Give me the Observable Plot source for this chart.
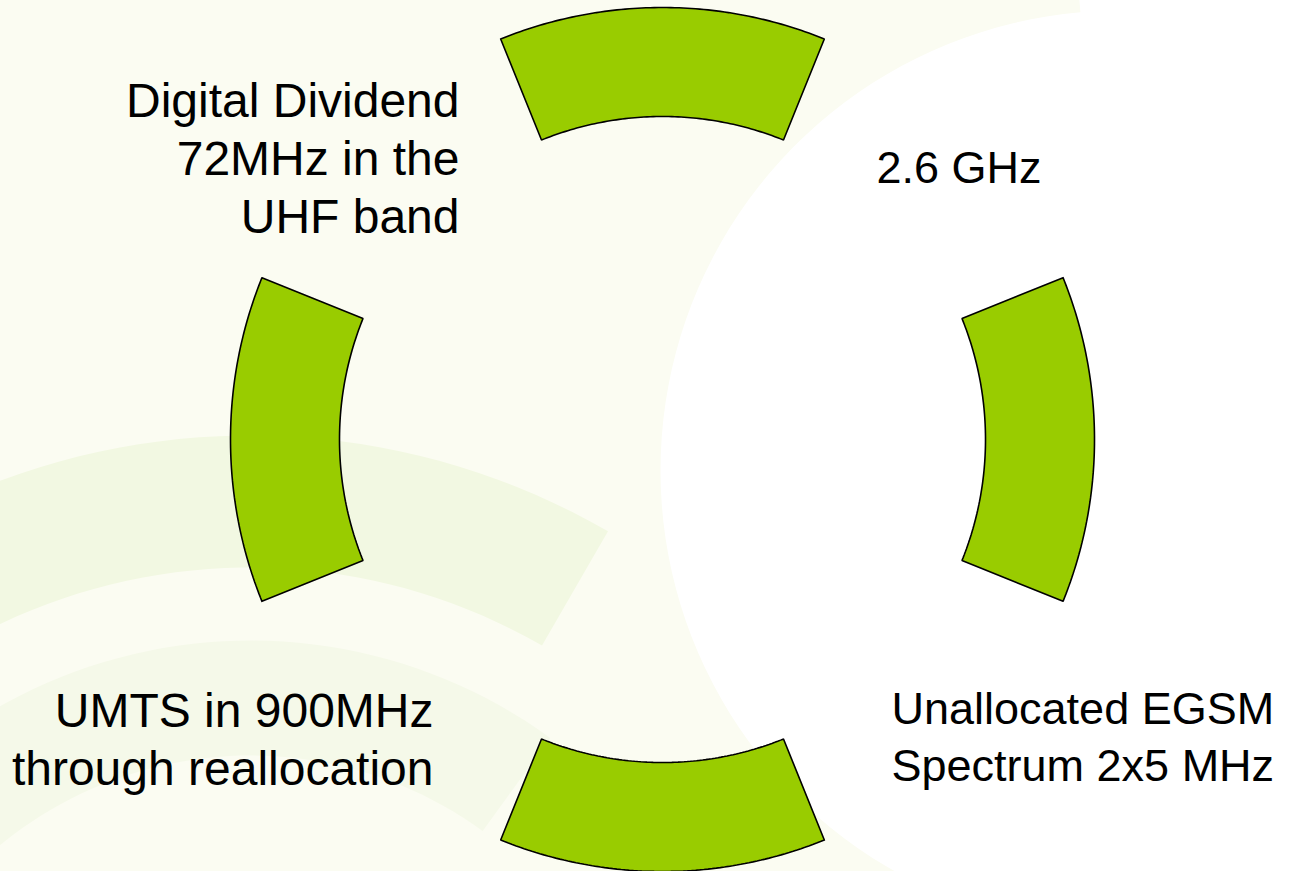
<!DOCTYPE html>
<html>
<head>
<meta charset="utf-8">
<script src="https://cdn.jsdelivr.net/npm/d3@7"></script>
<script src="https://cdn.jsdelivr.net/npm/@observablehq/plot@0.6"></script>
<style>
  html, body { margin: 0; padding: 0; background: #ffffff; }
  #chart svg { display: block; }
</style>
</head>
<body>
<div id="chart"></div>
<script>
// ---- data ----
const segmentNames = ["2.6 GHz band", "EGSM band", "900MHz band", "UHF band"];
const segmentCenterAngles = [0, 90, 180, 270];   // degrees, clockwise from top
const segmentSpan = 44;                            // degrees per segment
const innerRadius = 323;
const outerRadius = 432;
const circleCenter = [662, 439];

const labelTexts = [
  "Digital Dividend\n72MHz in the\nUHF band",
  "2.6 GHz",
  "UMTS in 900MHz\nthrough reallocation",
  "Unallocated EGSM\nSpectrum 2x5 MHz"
];
const labelAnchors = ["end", "start", "end", "start"];

// faint decorative background swirl rings
const bgCx = [1120, 250, 250];
const bgCy = [470, 1150, 1150];
const bgR0 = [460, 583, 395];
const bgR1 = [1400, 715, 510];
const bgA0 = [-175, -100, -100];
const bgA1 = [-5, 30, 36];
const bgColors = ["#fbfcf2", "#f2f8e2", "#f5f9e9"];

// ---- layout (not data) ----
const W = 1293, H = 871;
const labelLayout = [
  {x: 459, y: 76, size: 48, lh: 1.2},
  {x: 876, y: 142, size: 45, lh: 1.27},
  {x: 433, y: 686, size: 48, lh: 1.2},
  {x: 891, y: 683, size: 45, lh: 1.27}
];

function ring(id, cx, cy, r0, r1, a0, a1) {
  const pts = [];
  const n = 80;
  const rad = d => d * Math.PI / 180;
  for (let i = 0; i <= n; i++) {
    const a = rad(a0 + (a1 - a0) * i / n);
    pts.push({id, x: cx + r1 * Math.sin(a), y: cy - r1 * Math.cos(a)});
  }
  for (let i = n; i >= 0; i--) {
    const a = rad(a0 + (a1 - a0) * i / n);
    pts.push({id, x: cx + r0 * Math.sin(a), y: cy - r0 * Math.cos(a)});
  }
  pts.push({...pts[0]});
  return pts;
}

const segmentPts = segmentCenterAngles.flatMap((a, i) =>
  ring(segmentNames[i], circleCenter[0], circleCenter[1], innerRadius, outerRadius,
       a - segmentSpan / 2, a + segmentSpan / 2));

const bgMarks = bgCx.map((cx, i) =>
  Plot.line(ring("bg" + i, cx, bgCy[i], bgR0[i], bgR1[i], bgA0[i], bgA1[i]),
    {x: "x", y: "y", fill: bgColors[i], stroke: "none", curve: "linear"}));

const font = "'Liberation Sans', Arial, sans-serif";

const textMarks = labelTexts.map((t, i) =>
  Plot.text([{text: t, ...labelLayout[i]}], {
    x: "x", y: "y", text: "text", textAnchor: labelAnchors[i], lineAnchor: "top",
    fontSize: labelLayout[i].size, lineHeight: labelLayout[i].lh,
    fill: "#000000", fontFamily: font
  }));

const chart = Plot.plot({
  width: W,
  height: H,
  margin: 0,
  x: {domain: [0, W], range: [0, W], axis: null},
  y: {domain: [0, H], range: [0, H], axis: null},
  style: {background: "#ffffff", overflow: "hidden"},
  marks: [
    ...bgMarks,
    Plot.line(segmentPts, {
      x: "x", y: "y", z: "id",
      fill: "#99cc00", stroke: "#000000", strokeWidth: 1.6,
      strokeLinejoin: "miter", curve: "linear"
    }),
    ...textMarks
  ]
});
document.getElementById("chart").appendChild(chart);
</script>
</body>
</html>
